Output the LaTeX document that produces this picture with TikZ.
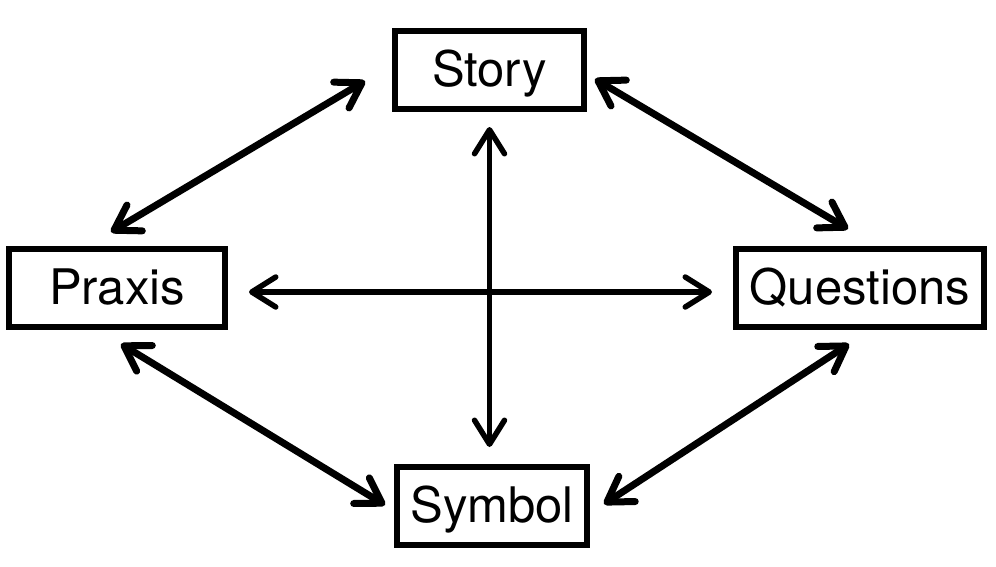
\documentclass[tikz,border=0pt]{standalone}
\usepackage{fontspec}
\setmainfont{TeX Gyre Heros}
\usetikzlibrary{arrows.meta}
\tikzset{
	box/.style={draw, line width=6pt, minimum height=78pt, inner sep=0pt, text height=35pt, text depth=3pt, font=\fontsize{49}{59}\selectfont},
	link/.style={<->, line width=7pt},
	cross/.style={<->, line width=5.5pt}
}
\begin{document}
\begin{tikzpicture}[x=1pt, y=-1pt, >={Straight Barb[length=24pt,width=30pt,round]}]
			\useasboundingbox (0,0) rectangle (996,566);
			%boxes
			\foreach \nm/\x/\y/\w in {Story/489.5/70/189, Praxis/117/288/216, Questions/860/288/248, Symbol/492/506/190}{
				\node[box, minimum width=\w pt] (\nm) at (\x,\y){\nm};
			}
			
			%outer arrows
			\draw[link] ([xshift=-6pt,yshift=14pt]Praxis.north) -- ([xshift=-27pt,yshift=-11pt]Story.west);
			\draw[link] ([xshift=8pt,yshift=-9pt]Story.east) -- ([xshift=-12pt,yshift=17pt]Questions.north);
			\draw[link] ([xshift=4pt,yshift=-14pt]Praxis.south) -- ([xshift=-9pt,yshift=1pt]Symbol.west);
			\draw[link] ([xshift=-11pt,yshift=-14pt]Questions.south) -- ([xshift=14pt,yshift=2pt]Symbol.east);
			
			%cross
			\draw[cross, shorten <=15pt, shorten >=17pt] (Story.south) -- (Story.south |- Symbol.north);
			\draw[cross, shorten <=21pt, shorten >=21pt] ([yshift=-4pt]Praxis.east) -- ([yshift=-4pt]Questions.west);
\end{tikzpicture}
\end{document}
